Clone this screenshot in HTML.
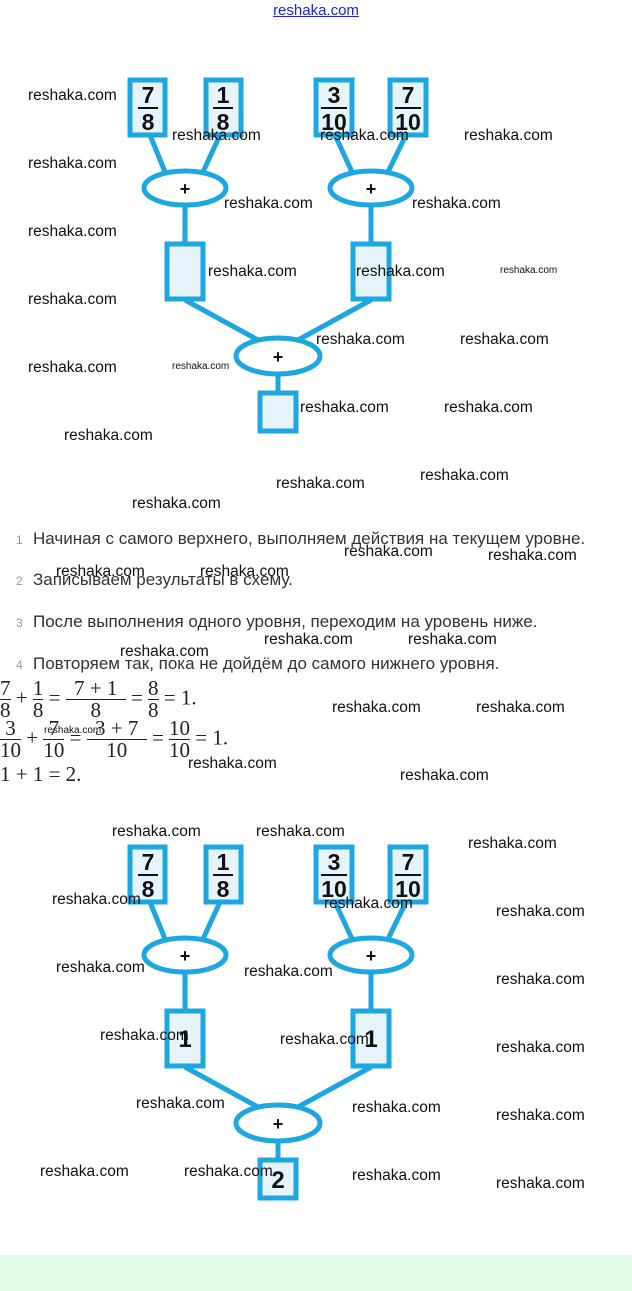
<!DOCTYPE html>
<html><head><meta charset="utf-8"><style>
html,body{margin:0;padding:0;background:#fff;}
body{width:632px;height:1291px;position:relative;overflow:hidden;font-family:"Liberation Sans",sans-serif;}
.w{position:absolute;font-size:15.5px;line-height:18px;color:#111;white-space:nowrap;}
.s{font-size:10px;line-height:12px;}
.li{position:absolute;left:16px;font-size:17px;color:#333;white-space:nowrap;}
.li b{font-weight:normal;color:#999;display:inline-block;width:17px;font-size:12px;}
.m{position:absolute;left:0;font-family:"Liberation Serif",serif;font-size:21px;color:#222;white-space:nowrap;}
.fr{display:inline-block;vertical-align:middle;text-align:center;line-height:21px;}
.fr span{display:block;}
.fr span:first-child{border-bottom:1px solid #222;}
</style></head><body>
<div style="position:absolute;left:0;top:2px;width:632px;text-align:center;font-size:15px;color:#2222dd;text-decoration:underline;">reshaka.com</div>

<svg width="632" height="1291" style="position:absolute;left:0;top:0" xmlns="http://www.w3.org/2000/svg">
<defs>
<g id="d" stroke="#1ca6e2" stroke-width="5" fill="#e6f3fb">
<line x1="150" y1="135" x2="165" y2="172"/><line x1="220" y1="135" x2="203" y2="172"/>
<line x1="335" y1="135" x2="352" y2="172"/><line x1="406" y1="135" x2="388" y2="172"/>
<line x1="185" y1="206" x2="185" y2="243"/><line x1="371" y1="206" x2="371" y2="243"/>
<line x1="185" y1="300" x2="258" y2="340"/><line x1="371" y1="300" x2="298" y2="340"/>
<line x1="278" y1="374" x2="278" y2="392"/>
<rect x="130" y="80" width="35" height="55"/><rect x="206" y="80" width="35" height="55"/>
<rect x="316" y="80" width="36" height="55"/><rect x="390" y="80" width="36" height="55"/>
<ellipse cx="185" cy="188" rx="41" ry="17" fill="#fff"/><ellipse cx="371" cy="188" rx="41" ry="17" fill="#fff"/>
<rect x="167" y="244" width="36" height="55"/><rect x="353" y="244" width="36" height="55"/>
<ellipse cx="278" cy="356" rx="42" ry="18" fill="#fff"/>
<rect x="260" y="393" width="36" height="38"/>
</g>
<g id="t" font-family="Liberation Sans,sans-serif" font-size="23" font-weight="bold" fill="#111" text-anchor="middle">
<text x="148" y="103">7</text><text x="148" y="130">8</text>
<text x="223" y="103">1</text><text x="223" y="130">8</text>
<text x="334" y="103">3</text><text x="334" y="130">10</text>
<text x="408" y="103">7</text><text x="408" y="130">10</text>
<g stroke="#111" stroke-width="2"><line x1="138" y1="108" x2="158" y2="108"/><line x1="213" y1="108" x2="233" y2="108"/><line x1="321" y1="108" x2="347" y2="108"/><line x1="395" y1="108" x2="421" y2="108"/></g>
<text x="185" y="195" font-size="18">+</text><text x="371" y="195" font-size="18">+</text><text x="278" y="363" font-size="18">+</text>
</g>
</defs>
<use href="#d"/><use href="#t"/>
<g transform="translate(0,767)"><use href="#d"/><use href="#t"/>
<g font-family="Liberation Sans,sans-serif" font-size="24" font-weight="bold" fill="#111" text-anchor="middle">
<text x="185" y="280">1</text><text x="371" y="280">1</text><text x="278" y="421">2</text></g></g>
<rect x="0" y="1255" width="632" height="36" fill="#e0fbea"/>
</svg>

<div class="li" style="top:529px"><b>1</b>Начиная с самого верхнего, выполняем действия на текущем уровне.</div>
<div class="li" style="top:570px"><b>2</b>Записываем результаты в схему.</div>
<div class="li" style="top:612px"><b>3</b>После выполнения одного уровня, переходим на уровень ниже.</div>
<div class="li" style="top:654px"><b>4</b>Повторяем так, пока не дойдём до самого нижнего уровня.</div>

<div class="m" style="top:678px"><span class="fr"><span>7</span><span>8</span></span> + <span class="fr"><span>1</span><span>8</span></span> = <span class="fr" style="width:60px"><span>7 + 1</span><span>8</span></span> = <span class="fr"><span>8</span><span>8</span></span> = 1.</div>
<div class="m" style="top:718px"><span class="fr"><span>3</span><span>10</span></span> + <span class="fr"><span>7</span><span>10</span></span> = <span class="fr" style="width:60px"><span>3 + 7</span><span>10</span></span> = <span class="fr"><span>10</span><span>10</span></span> = 1.</div>
<div class="m" style="top:762px">1 + 1 = 2.</div>

<div class="w" style="left:28px;top:87px">reshaka.com</div>
<div class="w" style="left:172px;top:127px">reshaka.com</div>
<div class="w" style="left:320px;top:127px">reshaka.com</div>
<div class="w" style="left:464px;top:127px">reshaka.com</div>
<div class="w" style="left:28px;top:155px">reshaka.com</div>
<div class="w" style="left:224px;top:195px">reshaka.com</div>
<div class="w" style="left:412px;top:195px">reshaka.com</div>
<div class="w" style="left:28px;top:223px">reshaka.com</div>
<div class="w" style="left:208px;top:263px">reshaka.com</div>
<div class="w" style="left:356px;top:263px">reshaka.com</div>
<div class="w s" style="left:500px;top:265px">reshaka.com</div>
<div class="w" style="left:28px;top:291px">reshaka.com</div>
<div class="w" style="left:316px;top:331px">reshaka.com</div>
<div class="w" style="left:460px;top:331px">reshaka.com</div>
<div class="w" style="left:28px;top:359px">reshaka.com</div>
<div class="w s" style="left:172px;top:361px">reshaka.com</div>
<div class="w" style="left:300px;top:399px">reshaka.com</div>
<div class="w" style="left:444px;top:399px">reshaka.com</div>
<div class="w" style="left:64px;top:427px">reshaka.com</div>
<div class="w" style="left:276px;top:475px">reshaka.com</div>
<div class="w" style="left:420px;top:467px">reshaka.com</div>
<div class="w" style="left:132px;top:495px">reshaka.com</div>
<div class="w" style="left:344px;top:543px">reshaka.com</div>
<div class="w" style="left:488px;top:547px">reshaka.com</div>
<div class="w" style="left:56px;top:563px">reshaka.com</div>
<div class="w" style="left:200px;top:563px">reshaka.com</div>
<div class="w" style="left:264px;top:631px">reshaka.com</div>
<div class="w" style="left:408px;top:631px">reshaka.com</div>
<div class="w" style="left:120px;top:643px">reshaka.com</div>
<div class="w" style="left:332px;top:699px">reshaka.com</div>
<div class="w" style="left:476px;top:699px">reshaka.com</div>
<div class="w s" style="left:44px;top:725px">reshaka.com</div>
<div class="w" style="left:188px;top:755px">reshaka.com</div>
<div class="w" style="left:400px;top:767px">reshaka.com</div>
<div class="w" style="left:112px;top:823px">reshaka.com</div>
<div class="w" style="left:256px;top:823px">reshaka.com</div>
<div class="w" style="left:468px;top:835px">reshaka.com</div>
<div class="w" style="left:52px;top:891px">reshaka.com</div>
<div class="w" style="left:324px;top:895px">reshaka.com</div>
<div class="w" style="left:496px;top:903px">reshaka.com</div>
<div class="w" style="left:56px;top:959px">reshaka.com</div>
<div class="w" style="left:244px;top:963px">reshaka.com</div>
<div class="w" style="left:496px;top:971px">reshaka.com</div>
<div class="w" style="left:100px;top:1027px">reshaka.com</div>
<div class="w" style="left:280px;top:1031px">reshaka.com</div>
<div class="w" style="left:496px;top:1039px">reshaka.com</div>
<div class="w" style="left:136px;top:1095px">reshaka.com</div>
<div class="w" style="left:352px;top:1099px">reshaka.com</div>
<div class="w" style="left:496px;top:1107px">reshaka.com</div>
<div class="w" style="left:40px;top:1163px">reshaka.com</div>
<div class="w" style="left:184px;top:1163px">reshaka.com</div>
<div class="w" style="left:352px;top:1167px">reshaka.com</div>
<div class="w" style="left:496px;top:1175px">reshaka.com</div>
</body></html>
